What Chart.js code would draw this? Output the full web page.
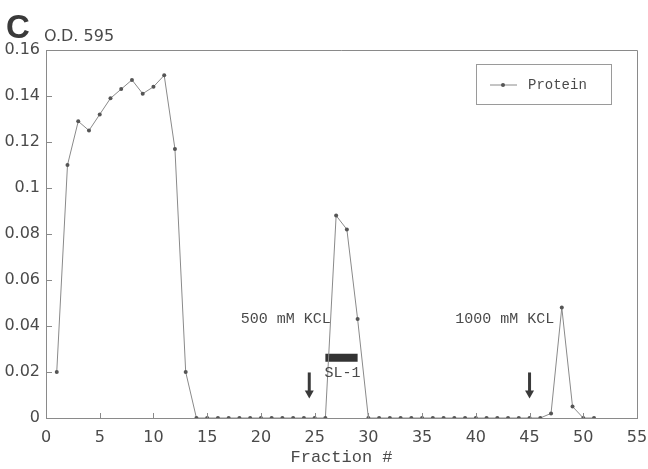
<!DOCTYPE html>
<html>
<head>
<meta charset="utf-8">
<script src="https://cdn.jsdelivr.net/npm/chart.js@4"></script>
<style>
  body { margin: 0; background: #fff; }
  #wrap { position: relative; width: 648px; height: 469px; }
</style>
</head>
<body>
<div id="wrap"><canvas id="fractionChart"></canvas></div>
<script>
// Fraction numbers and O.D. 595 readings
const fractions = [
  1, 2, 3, 4, 5, 6, 7, 8, 9, 10,
  11, 12, 13, 14, 15, 16, 17, 18, 19, 20,
  21, 22, 23, 24, 25, 26, 27, 28, 29, 30,
  31, 32, 33, 34, 35, 36, 37, 38, 39, 40,
  41, 42, 43, 44, 45, 46, 47, 48, 49, 50, 51
];
const protein = [
  0.020, 0.110, 0.129, 0.125, 0.132, 0.139, 0.143, 0.147, 0.141, 0.144,
  0.149, 0.117, 0.020, 0, 0, 0, 0, 0, 0, 0,
  0, 0, 0, 0, 0, 0, 0.088, 0.082, 0.043, 0,
  0, 0, 0, 0, 0, 0, 0, 0, 0, 0,
  0, 0, 0, 0, 0, 0, 0.002, 0.048, 0.005, 0, 0
];

// Axis ticks
const xTicks = [0, 5, 10, 15, 20, 25, 30, 35, 40, 45, 50, 55];
const yTickLabels = ["0", "0.02", "0.04", "0.06", "0.08", "0.1", "0.12", "0.14", "0.16"];

// SL-1 bar (fractions) and its level
const sl1Fractions = [26, 29];
const sl1Level = 0.0262;

// KCL step arrows: fraction, arrow top, arrow tip
const arrowFractions = [24.5, 45];
const arrowTop = 0.0198;
const arrowTip = 0.0085;

// Labels placed in data units
const notes = [
  { text: "500 mM KCL", x: 26.5, y: 0.043, align: "right" },
  { text: "1000 mM KCL", x: 47.3, y: 0.043, align: "right" },
  { text: "SL-1", x: 27.6, y: 0.0196, align: "center" }
];

const ink = "#4a4a4a";
const lineGrey = "#8a8a8a";

// inward tick marks, frame, arrows, notes, legend
const decorations = {
  id: "decorations",
  afterDatasetsDraw(chart) {
    const { ctx, chartArea: a, scales: { x, y } } = chart;
    ctx.save();

    // frame top and right
    ctx.strokeStyle = lineGrey;
    ctx.lineWidth = 1;
    ctx.beginPath();
    ctx.moveTo(a.left, a.top + 0.5);
    ctx.lineTo(a.right + 0.5, a.top + 0.5);
    ctx.lineTo(a.right + 0.5, a.bottom);
    ctx.stroke();

    // inward ticks
    ctx.beginPath();
    x.ticks.forEach((t) => {
      const px = Math.round(x.getPixelForValue(t.value)) + 0.5;
      ctx.moveTo(px, a.bottom);
      ctx.lineTo(px, a.bottom - 5);
    });
    y.ticks.forEach((t) => {
      const py = Math.round(y.getPixelForValue(t.value)) + 0.5;
      ctx.moveTo(a.left, py);
      ctx.lineTo(a.left + 6, py);
    });
    ctx.stroke();

    // arrows
    ctx.fillStyle = "#3a3a3a";
    ctx.strokeStyle = "#3a3a3a";
    arrowFractions.forEach((f) => {
      const px = x.getPixelForValue(f);
      const top = y.getPixelForValue(arrowTop);
      const tip = y.getPixelForValue(arrowTip);
      ctx.lineWidth = 3;
      ctx.beginPath();
      ctx.moveTo(px, top);
      ctx.lineTo(px, tip - 7);
      ctx.stroke();
      ctx.beginPath();
      ctx.moveTo(px - 4.5, tip - 8);
      ctx.lineTo(px + 4.5, tip - 8);
      ctx.lineTo(px, tip);
      ctx.closePath();
      ctx.fill();
    });

    // notes
    ctx.fillStyle = ink;
    ctx.font = "15px 'Liberation Mono'";
    ctx.textBaseline = "middle";
    notes.forEach((n) => {
      ctx.textAlign = n.align;
      ctx.fillText(n.text, x.getPixelForValue(n.x), y.getPixelForValue(n.y));
    });

    // legend box
    const bx = a.right - 161, by = a.top + 14, bw = 135, bh = 40;
    ctx.strokeStyle = "#9a9a9a";
    ctx.lineWidth = 1;
    ctx.strokeRect(bx + 0.5, by + 0.5, bw, bh);
    ctx.strokeStyle = lineGrey;
    ctx.beginPath();
    ctx.moveTo(bx + 14, by + 21);
    ctx.lineTo(bx + 41, by + 21);
    ctx.stroke();
    ctx.fillStyle = "#555";
    ctx.beginPath();
    ctx.arc(bx + 27, by + 21, 2, 0, Math.PI * 2);
    ctx.fill();
    ctx.fillStyle = ink;
    ctx.textAlign = "left";
    ctx.font = "14px 'Liberation Mono'";
    ctx.fillText("Protein", bx + 52, by + 21);

    // panel letter and unit
    ctx.textBaseline = "alphabetic";
    ctx.fillStyle = "#3a3a3a";
    ctx.font = "bold 33px 'Liberation Sans'";
    ctx.fillText("C", 6, 38);
    ctx.fillStyle = ink;
    ctx.font = "16px 'DejaVu Sans'";
    ctx.fillText("O.D. 595", 44, 41);

    ctx.restore();
  }
};

function renderChart() {
  const ctx = document.getElementById("fractionChart").getContext("2d");
  new Chart(ctx, {
    type: "line",
    data: {
      datasets: [
        {
          label: "Protein",
          data: fractions.map((f, i) => ({ x: f, y: protein[i] })),
          borderColor: lineGrey,
          borderWidth: 1,
          pointRadius: 2,
          pointBackgroundColor: "#555",
          pointBorderWidth: 0,
          tension: 0,
        },
        {
          label: "SL-1",
          data: sl1Fractions.map((f) => ({ x: f, y: sl1Level })),
          borderColor: "#333",
          borderWidth: 8,
          borderCapStyle: "butt",
          pointRadius: 0,
        },
      ],
    },
    options: {
      responsive: true,
      maintainAspectRatio: false,
      animation: false,
      layout: { padding: { top: 50, right: 11, left: 0, bottom: 0 } },
      plugins: {
        legend: { display: false },
        tooltip: { enabled: false },
      },
      scales: {
        x: {
          type: "linear",
          min: 0,
          max: 55,
          afterBuildTicks: (scale) => {
            scale.ticks = xTicks.map((v) => ({ value: v }));
          },
          afterFit: (scale) => {
            scale.height = 51;
            scale.paddingRight = 0;
            scale.paddingLeft = 0;
          },
          grid: { display: false, drawTicks: false, tickLength: 0 },
          border: { display: true, color: lineGrey, width: 1 },
          ticks: {
            padding: 10,
            color: ink,
            font: { family: "'DejaVu Sans'", size: 16 },
            maxRotation: 0,
          },
          title: {
            display: true,
            text: "Fraction #",
            color: ink,
            font: { family: "'Liberation Mono'", size: 17 },
            padding: { top: 0, bottom: 1 },
          },
        },
        y: {
          min: 0,
          max: 0.16,
          afterBuildTicks: (scale) => {
            scale.ticks = yTickLabels.map((s, i) => ({ value: i * 0.02 }));
          },
          afterFit: (scale) => { scale.width = 46; },
          grid: { display: false, drawTicks: false, tickLength: 0 },
          border: { display: true, color: lineGrey, width: 1 },
          ticks: {
            padding: 6,
            color: ink,
            font: { family: "'DejaVu Sans'", size: 16 },
            callback: (value, index) => yTickLabels[index],
          },
        },
      },
    },
    plugins: [decorations],
  });
}

renderChart();
</script>
</body>
</html>
